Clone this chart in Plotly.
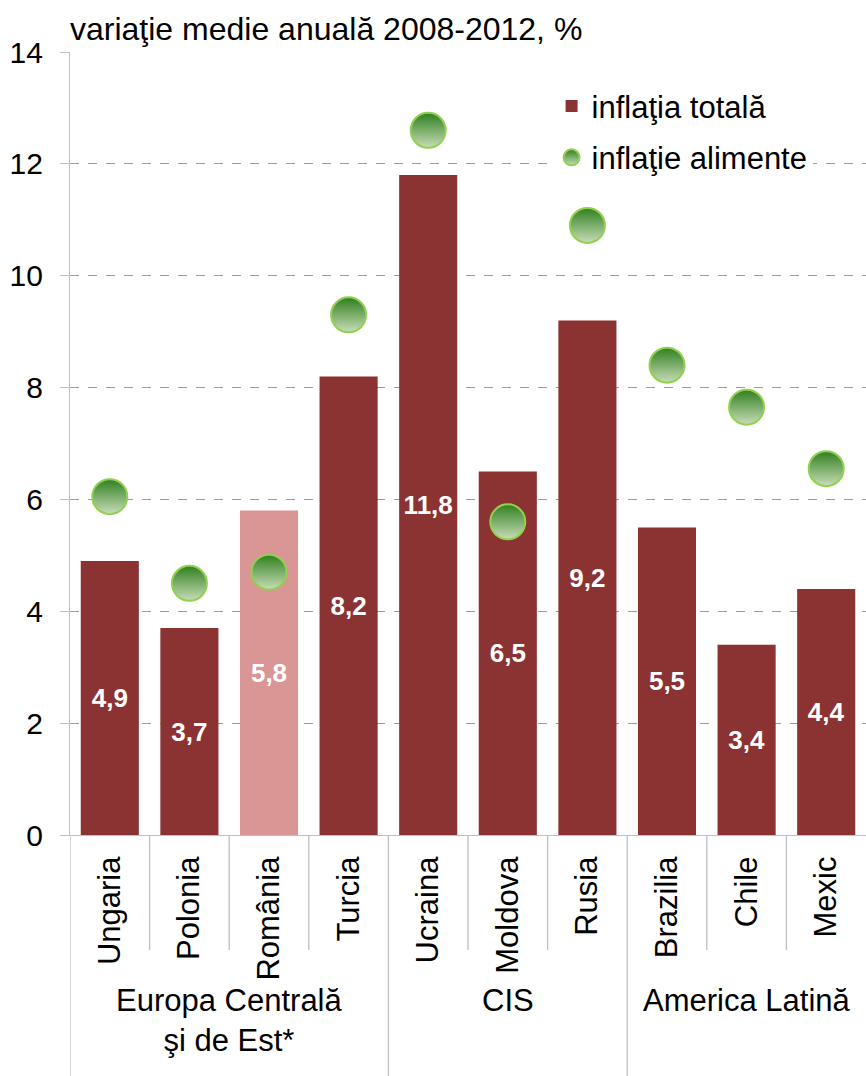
import plotly.graph_objects as go

countries = ["Ungaria", "Polonia", "România", "Turcia", "Ucraina",
             "Moldova", "Rusia", "Brazilia", "Chile", "Mexic"]
total_inflation = [4.9, 3.7, 5.8, 8.2, 11.8, 6.5, 9.2, 5.5, 3.4, 4.4]
food_inflation = [6.05, 4.5, 4.7, 9.3, 12.6, 5.6, 10.9, 8.4, 7.65, 6.55]
groups = ["Europa Centrală<br>şi de Est*", "CIS", "America Latină"]
group_spans = [(0, 3), (4, 6), (7, 9)]
y_ticks = [0, 2, 4, 6, 8, 10, 12, 14]

FONT = "Liberation Sans, Arial, sans-serif"
DARK_RED = "#8B3333"
PINK = "#D99694"
AXIS_GREY = "#BFBFBF"

bar_colors = [PINK if c == "România" else DARK_RED for c in countries]

fig = go.Figure()

fig.add_trace(go.Bar(
    x=countries, y=total_inflation, name="inflaţia totală",
    legendgroup="total",
    marker=dict(color=bar_colors, line=dict(width=0)),
    width=0.73,
    texttemplate="%{y:.1f}", textposition="inside", insidetextanchor="middle",
    textfont=dict(family=FONT, size=26, color="white", weight="bold"),
    hoverinfo="skip",
))

fig.add_trace(go.Scatter(
    x=countries, y=food_inflation, name="inflaţie alimente", mode="markers",
    legendgroup="food",
    marker=dict(size=35, color="#2F7F1F",
                gradient=dict(type="vertical", color="#C9DDB8"),
                line=dict(color="#92D050", width=2)),
    hoverinfo="skip",
))

shapes = []
# category separators below the axis; group boundaries run longer
long_bounds = {-0.5, 3.5, 6.5}
for b in [-0.5, 0.5, 1.5, 2.5, 3.5, 4.5, 5.5, 6.5, 7.5, 8.5]:
    y_end = -0.308 if b in long_bounds else -0.147
    shapes.append(dict(type="line", xref="x", yref="paper", x0=b, x1=b,
                       y0=0, y1=y_end, line=dict(color=AXIS_GREY, width=1.3)))

annotations = [dict(
    text="variaţie medie anuală 2008-2012, %", xref="paper", yref="paper",
    x=-0.003, y=1.0, xanchor="left", yanchor="bottom", yshift=3,
    showarrow=False, font=dict(family=FONT, size=32, color="black"),
)]
for label, (a, b) in zip(groups, group_spans):
    annotations.append(dict(
        text=label, xref="x", yref="paper", x=(a + b) / 2, y=-0.186,
        xanchor="center", yanchor="top", showarrow=False,
        font=dict(family=FONT, size=31, color="black"),
    ))

fig.update_layout(
    width=866, height=1076,
    margin=dict(l=70, r=0, t=52, b=241),
    paper_bgcolor="white", plot_bgcolor="white",
    separators=", ",
    font=dict(family=FONT, size=31, color="black"),
    showlegend=True,
    legend=dict(x=0.605, y=0.965, xanchor="left", yanchor="top",
                bgcolor="white", font=dict(family=FONT, size=31),
                traceorder="grouped", tracegroupgap=8),
    shapes=shapes, annotations=annotations,
)

fig.update_xaxes(
    range=[-0.5, 9.5], tickangle=-90, showgrid=False,
    showline=True, linecolor=AXIS_GREY, linewidth=1.3,
    ticks="", ticklabelstandoff=8,
    tickfont=dict(family=FONT, size=31, color="black"),
)
fig.update_yaxes(
    range=[0, 14], tickvals=y_ticks, showgrid=True,
    gridcolor="#9A9A9A", griddash="dash", gridwidth=1.3,
    zeroline=False, showline=True, linecolor=AXIS_GREY, linewidth=1.3,
    ticks="outside", ticklen=9, tickcolor=AXIS_GREY, tickwidth=1.3,
    ticklabelstandoff=11,
    tickfont=dict(family=FONT, size=30, color="black"),
)

fig.write_html("out.html")
